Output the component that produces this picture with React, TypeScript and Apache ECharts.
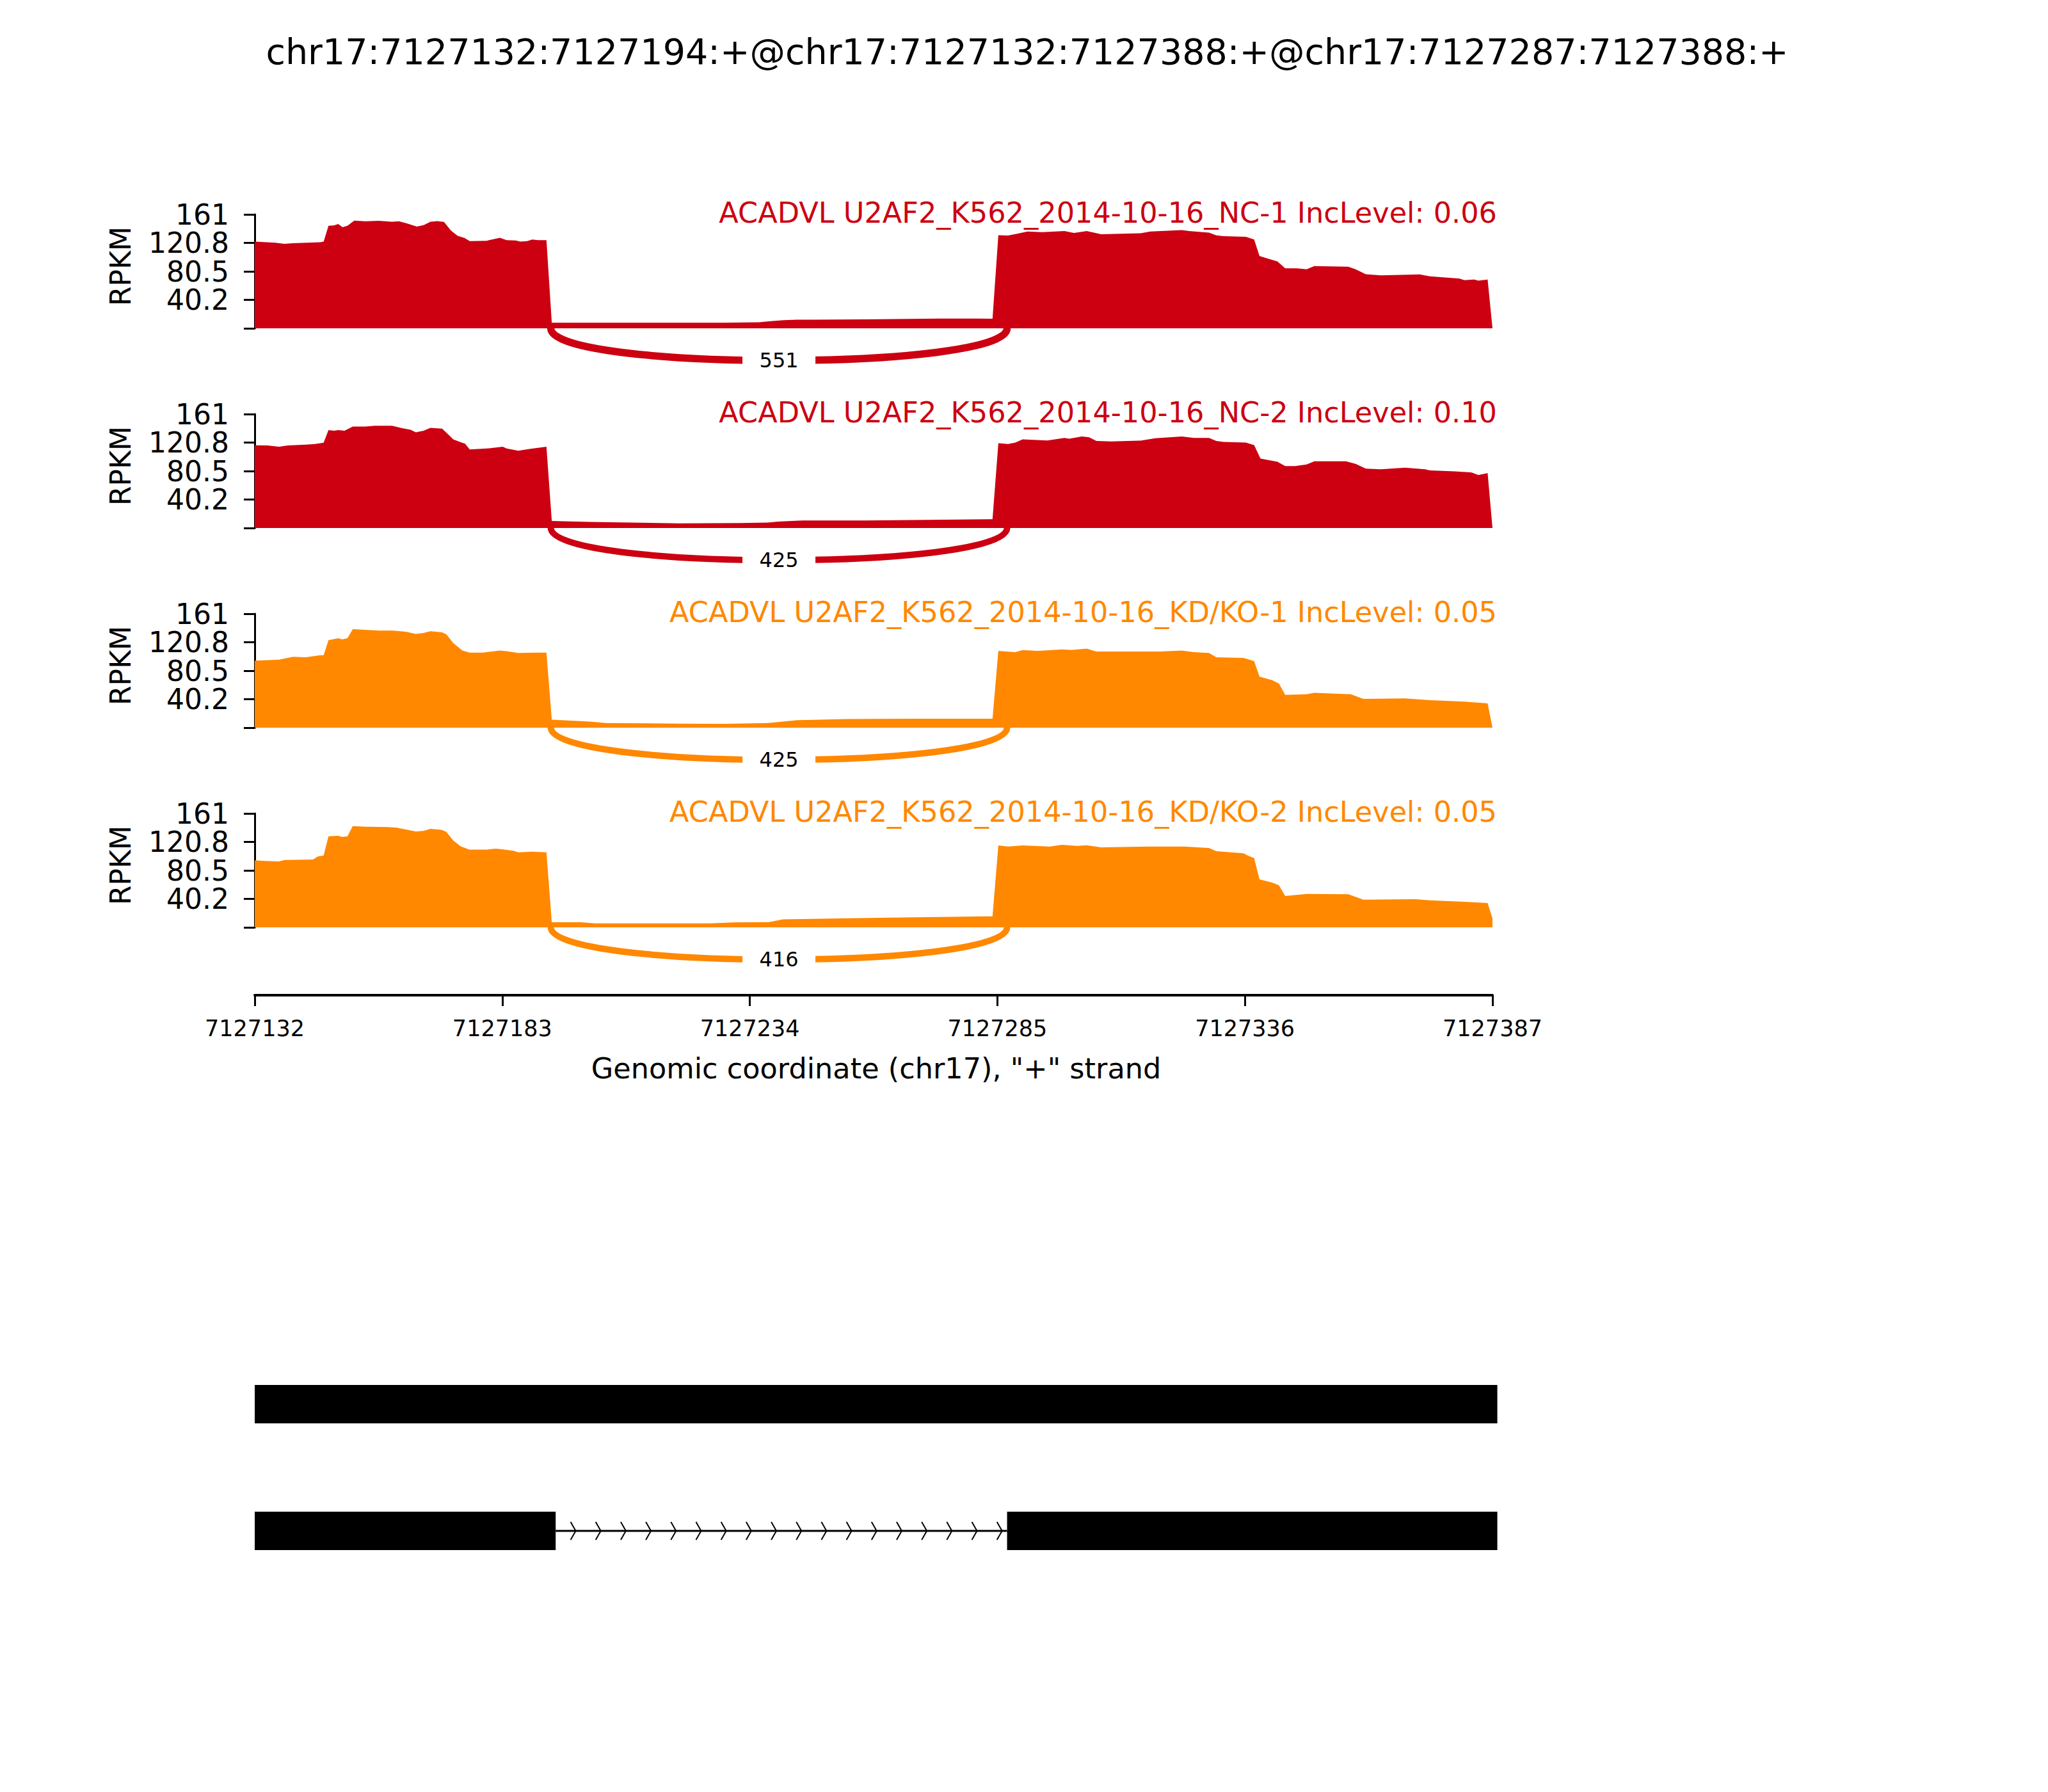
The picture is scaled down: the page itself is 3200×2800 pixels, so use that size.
import React, { useEffect, useRef } from 'react';
import * as echarts from 'echarts';

// ---------------- data ----------------
const X_START = 7127132; // genomic coordinate of offset 0
const X_MAX_OFFSET = 255;
const X_TICK_STEP = 51;
const TITLE = 'chr17:7127132:7127194:+@chr17:7127132:7127388:+@chr17:7127287:7127388:+';
const X_AXIS_TITLE = 'Genomic coordinate (chr17), "+" strand';
const Y_LABEL = 'RPKM';
const Y_MAX = 161;
const Y_TICK_STEP = 40.25;
const Y_TICK_LABELS = ['', '40.2', '80.5', '120.8', '161'];

const SAMPLE_NAMES = [
  'ACADVL U2AF2_K562_2014-10-16_NC-1',
  'ACADVL U2AF2_K562_2014-10-16_NC-2',
  'ACADVL U2AF2_K562_2014-10-16_KD/KO-1',
  'ACADVL U2AF2_K562_2014-10-16_KD/KO-2',
];
const INC_LEVELS = ['0.06', '0.10', '0.05', '0.05'];
const SAMPLE_COLORS = ['#CC0011', '#CC0011', '#FF8800', '#FF8800'];

// junction (offsets from X_START) and read counts per sample
const JUNCTION = [61, 155];
const JUNCTION_COUNTS = [551, 425, 425, 416];
const JUNCTION_WIDTHS = [11.5, 10, 10, 10];

// coverage: [offset from X_START, RPKM]
const covNC1: [number, number][] = [
  [0, 122.6], [4.3, 121], [6.1, 119.3], [7.9, 120.2], [13.5, 121.7], [14.2, 122.6], [15.2, 145], [16.3, 145.3],
  [17.2, 147.4], [18.1, 142.8], [19.1, 145], [20.5, 152.2], [22.8, 151.3], [25.6, 151.9], [28.3, 150.7], [29.7, 151.3],
  [31.1, 148.9], [33.4, 143.8], [34.8, 145.9], [36.2, 150.7], [37.6, 151.6], [39, 150.4], [40.4, 138.3], [41.8, 130.8],
  [43.2, 127.7], [44.3, 123.2], [47.8, 123.8], [50.5, 128], [51.9, 124.7], [53.8, 124.1], [54.7, 122.6], [56.1, 123.2],
  [57.2, 125.6], [58.4, 124.7], [60.1, 124.7], [61.2, 7.9], [75, 7.9], [96.8, 7.9], [104, 8.5], [106, 10], [109, 11.5],
  [111.8, 12.1], [125.9, 12.7], [141.1, 13.9], [152, 13.6], [153.2, 131.7], [155.2, 131.1], [157.2, 133.8], [159.2, 136.8],
  [162.3, 135.9], [166.8, 137.4], [168.8, 134.7], [171.4, 137.4], [174.4, 132.9], [182.5, 134.4], [184.5, 136.8], [191, 138.9],
  [192.5, 137.4], [196.6, 135.3], [198.1, 131.4], [199.6, 130.2], [204.2, 129.3], [205.9, 125.6], [207, 102.1], [208.7, 98.5],
  [210.7, 94.5], [212.3, 84.9], [214.7, 84.9], [216.7, 83.4], [218.3, 87.9], [225.3, 87], [226.8, 83.4], [228.9, 76.4],
  [232, 74.9], [240, 76.1], [242.1, 73.4], [248.2, 70.4], [249.2, 68], [251.2, 68.9], [252.1, 67.3], [254, 68.9], [255, 0],
];
const covNC2: [number, number][] = [
  [0, 116.9], [2.6, 116.6], [5, 114.8], [6.8, 116.6], [10.5, 117.8], [12.4, 118.7], [14.2, 120.5], [15.2, 138.3],
  [16.3, 137.4], [17.2, 138.3], [18.5, 137.4], [20.2, 143.4], [22.8, 143.4], [24.7, 144.4], [28.3, 144.4], [30.2, 141.3],
  [32.1, 138.9], [33.2, 135.3], [34.8, 137.4], [36.2, 141.6], [38.6, 140.4], [40, 131.4], [40.9, 125.3], [42.8, 120.2],
  [43.3, 119.3], [44.3, 111.1], [47.8, 112.3], [51.1, 114.8], [51.9, 112.3], [54.3, 109.3], [56.6, 111.7], [60.1, 114.8],
  [61.2, 10], [69.1, 8.5], [87.5, 6.6], [100, 7], [105.7, 7.6], [107.8, 9.1], [112.8, 10.6], [125.9, 10.6], [136, 11.2],
  [152, 12.4], [153.2, 119.9], [155.2, 118.7], [156.7, 120.8], [158.2, 125.3], [163.3, 123.8], [166.8, 127.4], [167.8, 126.2],
  [170.4, 129.3], [171.9, 128.3], [173.4, 122.9], [176.5, 122.3], [182.5, 123.5], [185.5, 126.8], [191, 129.3], [193.5, 127.4],
  [196.6, 127.4], [198.1, 122.9], [199.6, 121.7], [204.2, 120.8], [205.9, 117.2], [207.2, 98.2], [210.7, 93.6], [212.3, 87.6],
  [214.3, 87.6], [216.7, 89.7], [218.3, 94.2], [224.8, 94.2], [226.8, 90.6], [228.9, 84], [232, 83.1], [237, 85.2],
  [241.1, 83.1], [242.1, 81.5], [247.2, 80], [250.7, 78.5], [252.1, 74.9], [254, 77.6], [255, 0],
];
const covKD1: [number, number][] = [
  [0, 94.7], [5, 96.2], [7.9, 100.1], [10.5, 99.5], [13.5, 102.5], [14.2, 102.5], [15.2, 123.6], [17.2, 126.3],
  [18, 124.8], [19.1, 126.3], [20.2, 139.3], [21.9, 138.7], [25.6, 137.2], [28.3, 137.2], [31.1, 135.7], [33.2, 132.4],
  [34.8, 133.9], [36.2, 136.3], [38.6, 134.8], [39.5, 131.8], [40.9, 119.7], [42.8, 109.1], [44.3, 106.1], [46.9, 106.1],
  [50.5, 109.1], [51.9, 108.2], [54.3, 105.5], [58, 106.1], [60.1, 106.1], [61.2, 11.2], [69.1, 8.7], [72.4, 6.6],
  [87.5, 5.7], [96.8, 5.4], [105.7, 6.6], [111.8, 10.6], [121.9, 12.1], [136, 12.7], [152, 12.7], [153.2, 108.5],
  [156.7, 106.7], [158.2, 109.7], [161.3, 108.5], [166.3, 110.6], [168.3, 110], [171.4, 111.6], [173.4, 107.6], [180.5, 107.6],
  [186.6, 107.6], [191, 109.1], [193.5, 106.7], [196.6, 105.5], [198.1, 99.5], [203.7, 98.6], [205.9, 94.1], [207, 72.1],
  [209.7, 66.9], [211, 62.4], [212.3, 46.4], [216.7, 47.3], [218.3, 49.4], [225.8, 47.3], [228.4, 40.7], [237, 41.3],
  [242.1, 38.9], [249.2, 36.8], [254, 34.4], [255, 0],
];
const covKD2: [number, number][] = [
  [0, 94.7], [2.1, 93.8], [5, 93.2], [6.1, 95.3], [12, 95.9], [13, 100.1], [14.2, 101.6], [15.2, 128.7],
  [17.2, 129.3], [18, 127.8], [19.1, 128.7], [20.2, 143.2], [22.8, 142.3], [27.4, 141.7], [29.3, 140.8], [31.1, 138.4],
  [33.2, 135.4], [34.8, 136.3], [36.2, 139.3], [38.6, 137.8], [39.5, 134.8], [40.9, 122.7], [42.4, 114.6], [44.2, 110],
  [47.8, 110], [49.7, 111.3], [51.5, 110], [53.4, 108.2], [54.3, 106.1], [57.1, 107], [60.1, 106.1], [61.2, 7.2],
  [67.2, 7.2], [70.1, 5.7], [87.5, 5.7], [94, 5.7], [98.6, 6.9], [106, 7.5], [108.8, 11.2], [129, 13.6], [152, 15.7],
  [153.2, 115.8], [155.2, 114.3], [158.2, 115.8], [163.8, 114.3], [166.3, 116.7], [169.4, 115.2], [171.4, 116.1], [174.4, 113.1],
  [184.5, 114.3], [191.5, 114.3], [196.6, 112.2], [198.1, 107.6], [203.7, 104.6], [204.7, 101], [205.9, 98], [207, 67.8],
  [209.7, 63], [211, 59.4], [212.3, 44.3], [216.7, 47.3], [225.3, 46.7], [228.4, 39.2], [239.1, 39.8], [242.1, 38.3],
  [249.2, 36.2], [254, 34.4], [255, 12.7],
];
const COVERAGES = [covNC1, covNC2, covKD1, covKD2];

// gene model: isoform rows and their exons (offsets from X_START)
const ISOFORMS = ['retained', 'spliced'];
const ISOFORM_EXONS: [number, number, number][] = [
  [0, 256, 0],
  [0, 62, 1],
  [155, 256, 1],
];
const INTRONS: [number, number, number][] = [[62, 155, 1]];
const INTRON_ARROW_COUNT = 18;

// ---------------- layout ----------------
const FONT = 'DejaVu Sans';
const LEFT = 398;
const PLOT_W = 1934;
const PANEL_TOP0 = 335;
const PANEL_STEP = 312;
const PANEL_H = 178;
const AXIS_Y = 1555;
const GENE_TOP = 2095;
const GENE_H = 396;

export default function App() {
  const ref = useRef<HTMLDivElement>(null);

  useEffect(() => {
    if (!ref.current) return;
    const chart = echarts.init(ref.current, undefined, { renderer: 'svg' });

    const grids: any[] = [];
    const xAxes: any[] = [];
    const yAxes: any[] = [];
    const series: any[] = [];
    const graphics: any[] = [];

    SAMPLE_NAMES.forEach((name, i) => {
      const top = PANEL_TOP0 + i * PANEL_STEP;
      grids.push({ left: LEFT, top, width: PLOT_W, height: PANEL_H });
      xAxes.push({ type: 'value', gridIndex: i, min: 0, max: X_MAX_OFFSET, show: false });
      yAxes.push({
        type: 'value', gridIndex: i, min: 0, max: Y_MAX, interval: Y_TICK_STEP,
        axisLine: { show: true, lineStyle: { color: '#000', width: 3 } },
        axisTick: { show: true, length: 17, lineStyle: { color: '#000', width: 3 } },
        axisLabel: {
          show: true, showMinLabel: true, showMaxLabel: true, margin: 40,
          color: '#000', fontSize: 44, lineHeight: 38, fontFamily: FONT,
          formatter: (_v: number, idx: number) => Y_TICK_LABELS[idx] ?? '',
        },
        splitLine: { show: false },
      });
      series.push({
        type: 'line', xAxisIndex: i, yAxisIndex: i, data: COVERAGES[i],
        symbol: 'none', lineStyle: { width: 0, opacity: 0 },
        areaStyle: { color: SAMPLE_COLORS[i], opacity: 1 },
        silent: true, z: 2,
      });
      series.push({
        type: 'custom', xAxisIndex: i, yAxisIndex: i,
        data: [[JUNCTION[0], JUNCTION[1], JUNCTION_COUNTS[i]]],
        z: 3,
        renderItem: (_p: any, api: any) => {
          const a = api.coord([api.value(0), 0]);
          const b = api.coord([api.value(1), 0]);
          const h = 67;
          const y0 = a[1];
          const mx = (a[0] + b[0]) / 2;
          const my = y0 + 0.75 * h;
          return {
            type: 'group',
            children: [
              {
                type: 'bezierCurve',
                shape: { x1: a[0], y1: y0, x2: b[0], y2: y0, cpx1: a[0], cpy1: y0 + h, cpx2: b[0], cpy2: y0 + h },
                style: { stroke: SAMPLE_COLORS[i], lineWidth: JUNCTION_WIDTHS[i], fill: 'none' },
              },
              { type: 'rect', shape: { x: mx - 57, y: my - 30, width: 114, height: 60 }, style: { fill: '#fff' } },
              {
                type: 'text', x: mx, y: my,
                style: { text: String(api.value(2)), fontSize: 32, fontFamily: FONT, fill: '#000', align: 'center', verticalAlign: 'middle' },
              },
            ],
          };
        },
      });
      graphics.push({
        type: 'text', x: LEFT + PLOT_W + 7, y: top - 2,
        style: {
          text: `${name} IncLevel: ${INC_LEVELS[i]}`, fontSize: 44.6, fontFamily: FONT,
          fill: SAMPLE_COLORS[i], align: 'right', verticalAlign: 'middle',
        },
      });
      graphics.push({
        type: 'text', x: 188, y: top + 81, rotation: Math.PI / 2,
        style: { text: Y_LABEL, fontSize: 44, fontFamily: FONT, fill: '#000', align: 'center', verticalAlign: 'middle' },
      });
    });

    // bottom genomic axis
    const axisGrid = grids.length;
    grids.push({ left: LEFT, top: AXIS_Y - 1, width: PLOT_W, height: 1 });
    xAxes.push({
      type: 'value', gridIndex: axisGrid, min: 0, max: X_MAX_OFFSET, interval: X_TICK_STEP, position: 'bottom',
      axisLine: { show: true, onZero: false, lineStyle: { color: '#000', width: 4 } },
      axisTick: { show: true, length: 17, lineStyle: { color: '#000', width: 3 } },
      axisLabel: {
        show: true, showMinLabel: true, showMaxLabel: true, margin: 34,
        color: '#000', fontSize: 35, fontFamily: FONT,
        formatter: (v: number) => String(X_START + v),
      },
      splitLine: { show: false },
    });
    yAxes.push({ type: 'value', gridIndex: axisGrid, show: false, min: 0, max: 1 });

    // gene model
    const geneGrid = grids.length;
    grids.push({ left: LEFT, top: GENE_TOP, width: PLOT_W, height: GENE_H });
    xAxes.push({ type: 'value', gridIndex: geneGrid, min: 0, max: X_MAX_OFFSET, show: false });
    yAxes.push({ type: 'category', gridIndex: geneGrid, data: ISOFORMS, inverse: true, show: false });
    series.push({
      type: 'custom', xAxisIndex: geneGrid, yAxisIndex: geneGrid, data: ISOFORM_EXONS,
      renderItem: (_p: any, api: any) => {
        const a = api.coord([api.value(0), api.value(2)]);
        const b = api.coord([api.value(1), api.value(2)]);
        return { type: 'rect', shape: { x: a[0], y: a[1] - 30, width: b[0] - a[0], height: 60 }, style: { fill: '#000' } };
      },
    });
    series.push({
      type: 'custom', xAxisIndex: geneGrid, yAxisIndex: geneGrid, data: INTRONS,
      renderItem: (_p: any, api: any) => {
        const s = api.value(0);
        const e = api.value(1);
        const a = api.coord([s, api.value(2)]);
        const b = api.coord([e, api.value(2)]);
        const children: any[] = [
          { type: 'line', shape: { x1: a[0], y1: a[1], x2: b[0], y2: b[1] }, style: { stroke: '#000', lineWidth: 3 } },
        ];
        const step = (e - s) / INTRON_ARROW_COUNT;
        for (let k = 0; k < INTRON_ARROW_COUNT; k++) {
          const p = api.coord([s + (k + 0.8) * step, api.value(2)]);
          children.push({
            type: 'polyline',
            shape: { points: [[p[0] - 8, p[1] - 14], [p[0], p[1]], [p[0] - 8, p[1] + 14]] },
            style: { stroke: '#000', lineWidth: 2, fill: 'none' },
          });
        }
        return { type: 'group', children };
      },
    });

    graphics.push({
      type: 'text', x: 1605, y: 80,
      style: { text: TITLE, fontSize: 55.5, fontFamily: FONT, fill: '#000', align: 'center', verticalAlign: 'middle' },
    });
    graphics.push({
      type: 'text', x: LEFT + PLOT_W / 2 + 4, y: 1670,
      style: { text: X_AXIS_TITLE, fontSize: 44.6, fontFamily: FONT, fill: '#000', align: 'center', verticalAlign: 'middle' },
    });

    chart.setOption({
      animation: false,
      backgroundColor: '#fff',
      grid: grids,
      xAxis: xAxes,
      yAxis: yAxes,
      series,
      graphic: graphics,
    });
    return () => chart.dispose();
  }, []);

  return <div ref={ref} style={{ position: 'absolute', left: 0, top: 0, width: 3200, height: 2800 }} />;
}
